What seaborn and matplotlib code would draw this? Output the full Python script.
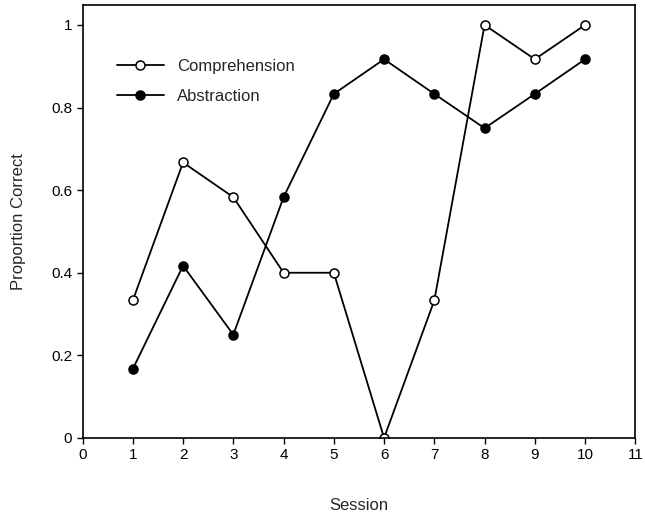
import matplotlib
matplotlib.use("Agg")
import matplotlib.pyplot as plt
import seaborn as sns
import pandas as pd

sessions = [1, 2, 3, 4, 5, 6, 7, 8, 9, 10]
comprehension = [0.333, 0.667, 0.583, 0.4, 0.4, 0.0, 0.333, 1.0, 0.917, 1.0]
abstraction = [0.167, 0.417, 0.25, 0.583, 0.833, 0.917, 0.833, 0.75, 0.833, 0.917]
x_ticks = list(range(0, 12))
y_ticks = [0, 0.2, 0.4, 0.6, 0.8, 1]
y_tick_labels = ["0", "0.2", "0.4", "0.6", "0.8", "1"]

sns.set_style("ticks")
plt.rcParams['font.family'] = ['Liberation Sans', 'DejaVu Sans']

df = pd.DataFrame({'Session': sessions + sessions,
                   'Proportion': comprehension + abstraction,
                   'Task': ['Comprehension'] * 10 + ['Abstraction'] * 10})

fig = plt.figure(figsize=(6.45, 5.14), dpi=100)
ax = fig.add_axes([0.128, 0.148, 0.857, 0.842])

styles = {'Comprehension': 'white', 'Abstraction': 'black'}
for task, face in styles.items():
    d = df[df['Task'] == task]
    sns.lineplot(data=d, x='Session', y='Proportion', ax=ax, color='black',
                 linewidth=1.3, marker='o', markersize=6.5,
                 markerfacecolor=face, markeredgecolor='black',
                 markeredgewidth=1.1, label=task)

ax.set_xlim(0, 11)
ax.set_ylim(0, 1.048)
ax.set_xticks(x_ticks)
ax.set_yticks(y_ticks)
ax.set_yticklabels(y_tick_labels)
ax.tick_params(direction='out', length=4, width=1, labelsize=11, colors='black')
for s in ax.spines.values():
    s.set_linewidth(1.2)
    s.set_color('black')
ax.set_xlabel('Session', fontsize=12, labelpad=26)
ax.set_ylabel('Proportion Correct', fontsize=12, labelpad=18)

leg = ax.legend(loc='upper left', bbox_to_anchor=(0.035, 0.91), frameon=False,
                fontsize=12, handlelength=2.8, handletextpad=0.8, labelspacing=0.9)

fig.savefig('out.png', dpi=100)
